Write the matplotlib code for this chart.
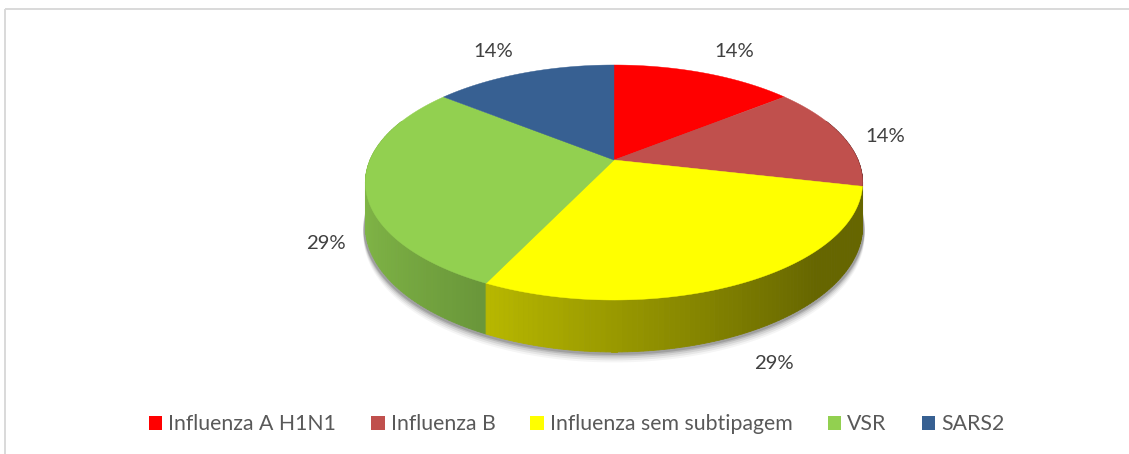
import numpy as np
import matplotlib
matplotlib.use("Agg")
import matplotlib.pyplot as plt
from matplotlib.patches import Polygon, Rectangle, Patch

# ---------------- data ----------------
categories = ["Influenza A H1N1", "Influenza B", "Influenza sem subtipagem", "VSR", "SARS2"]
counts = [1, 1, 2, 2, 1]
colors = ["#FF0000", "#C0504D", "#FFFF00", "#92D050", "#376092"]

# ---------------- layout / style ----------------
W, H = 1129, 454
CX, CY = 614, 160          # pie apex on screen
A, B, K, D = 244, 113.2, 0.1915, 42   # radii, perspective, depth
label_layout = [(1.42, 8), (1.2, 5), (1.2, 49), (1.15, 53), (1.42, 8)]  # (radius factor, drop)
FONT = "Lato"
plt.rcParams['font.family'] = [FONT, 'DejaVu Sans']

fig = plt.figure(figsize=(W / 100, H / 100), dpi=100)
ax = fig.add_axes([0, 0, 1, 1])
ax.set_xlim(0, W)
ax.set_ylim(H, 0)
ax.axis("off")


def proj(u, v, z=0.0):
    den = 1 - K * v
    return CX + A * u / den, CY + (B * v + D * z) / den


def uv(theta):
    return np.sin(theta), -np.cos(theta)


total = float(sum(counts))
fracs = np.array(counts) / total
starts = np.concatenate([[0], np.cumsum(fracs)[:-1]]) * 2 * np.pi
ends = np.cumsum(fracs) * 2 * np.pi

# ---- soft shadow below the pie ----
tt = np.linspace(0, 2 * np.pi, 400)
for dy, al in [(9, 0.04), (7, 0.06), (5, 0.08), (3, 0.11), (1.5, 0.14)]:
    u, v = uv(tt)
    x, y = proj(u * 1.008, v * 1.008, 1.0)
    ax.add_patch(Polygon(np.column_stack([x, y + dy]), closed=True,
                         facecolor="#000000", alpha=al, linewidth=0, zorder=1))

# ---- side walls with horizontal gradient ----
quads = []
for i in range(len(counts)):
    n = max(int((ends[i] - starts[i]) / (2 * np.pi) * 360), 4)
    th = np.linspace(starts[i], ends[i], n + 1)
    base = np.array(matplotlib.colors.to_rgb(colors[i]))
    for a0, a1 in zip(th[:-1], th[1:]):
        u0, v0 = uv(a0)
        u1, v1 = uv(a1)
        if max(v0, v1) < -0.35:
            continue
        x0t, y0t = proj(u0, v0, 0)
        x1t, y1t = proj(u1, v1, 0)
        x0b, y0b = proj(u0, v0, 1)
        x1b, y1b = proj(u1, v1, 1)
        um = 0.5 * (u0 + u1)
        f = np.clip(0.6 - 0.28 * um, 0.40, 0.9)
        col = base * f
        quads.append((0.5 * (v0 + v1),
                      [(x0t, y0t), (x1t, y1t), (x1b, y1b), (x0b, y0b)], col))
quads.sort(key=lambda q: q[0])
for _, pts, col in quads:
    ax.add_patch(Polygon(pts, closed=True, facecolor=col, edgecolor=col,
                         linewidth=0.6, zorder=2))

# ---- top faces ----
for i in range(len(counts)):
    th = np.linspace(starts[i], ends[i], 200)
    u, v = uv(th)
    x, y = proj(u, v, 0)
    pts = np.vstack([[CX, CY], np.column_stack([x, y])])
    ax.add_patch(Polygon(pts, closed=True, facecolor=colors[i],
                         edgecolor=colors[i], linewidth=0.3, zorder=3))

# ---- font sizing to match reference text widths ----
renderer = fig.canvas.get_renderer()


def fit_size(s, target_px):
    t = ax.text(0, 0, s, fontsize=10)
    w = t.get_window_extent(renderer).width
    t.remove()
    return 10 * target_px / w


lab_fs = fit_size("14%", 40)
leg_fs = fit_size("Influenza A H1N1", 167)

# ---- data labels ----
for i in range(len(counts)):
    mid = 0.5 * (starts[i] + ends[i])
    r, drop = label_layout[i]
    u, v = uv(mid)
    x, y = proj(u * r, v * r, 0)
    pct = int(round(100 * counts[i] / total))
    ax.text(x, y + drop, f"{pct}%", ha="center", va="center",
            fontsize=lab_fs, color="#404040", zorder=5)

# ---- legend ----
handles = [Patch(facecolor=c, edgecolor="none") for c in colors]
em = leg_fs * 100 / 72
ax.legend(handles, categories, loc="center", ncol=5,
          bbox_to_anchor=(576.5 / W, 1 - 424 / H), frameon=False,
          fontsize=leg_fs, handlelength=13.5 / em, handleheight=13.5 / em,
          handletextpad=6 / em, columnspacing=35 / em, borderaxespad=0,
          borderpad=0, labelcolor="#595959")

# ---- chart frame ----
ax.add_patch(Rectangle((5, 8.5), W + 20, H + 20, fill=False,
                       edgecolor="#D9D9D9", linewidth=1.4, zorder=0))

fig.savefig("out.png", dpi=100)
